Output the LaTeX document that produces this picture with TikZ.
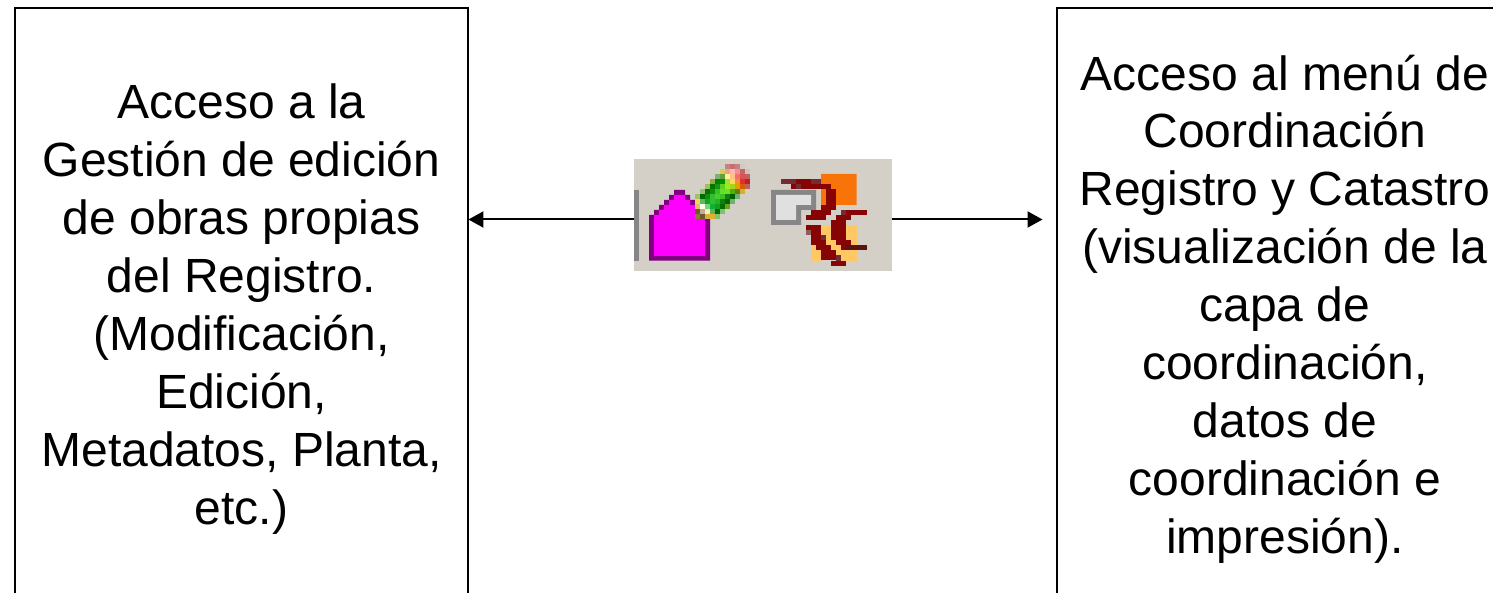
\documentclass[tikz,border=0pt]{standalone}
\usepackage{fontspec}
\setmainfont{Liberation Sans}
\usetikzlibrary{arrows.meta}
\definecolor{iconbg}{HTML}{D4D0C8}
\definecolor{housefill}{HTML}{FF00FF}
\definecolor{houseline}{HTML}{800080}
\definecolor{dred}{HTML}{860404}
\definecolor{mred}{HTML}{762A32}
\definecolor{xred}{HTML}{5A1410}
\definecolor{orng}{HTML}{F87408}
\definecolor{yell}{HTML}{FFC864}
\definecolor{grayln}{HTML}{868686}
\definecolor{graylt}{HTML}{E0E0E0}
\tikzset{
  textbox/.style={draw=black,line width=1.8pt,align=center,inner sep=0pt,
    font=\fontsize{48}{57.9}\selectfont},
  linkarrow/.style={draw=black,line width=2pt,-{Triangle[length=15pt,width=16pt]},shorten >=-0.5pt},
}
\newcommand{\pxc}[3]{\definecolor{tmpc}{HTML}{#3}\fill[tmpc] (#1,#2) rectangle ++(15.6,15.6);}
\begin{document}
\begin{tikzpicture}[x=1pt,y=-1pt]
\useasboundingbox (0,0) rectangle (1493,593);
\clip (0,0) rectangle (1493,593);
\fill[white] (0,0) rectangle (1493,593);
\node[textbox,minimum width=453pt,minimum height=602pt] (left) at (241.5,309)
 {Acceso a la\\Gestión de edición\\de obras propias\\del Registro.\\(Modificación,\\Edición,\\Metadatos, Planta,\\etc.)};
\node[textbox,minimum width=456pt,minimum height=602pt] (right) at (1285,309)
 {Acceso al menú de\\Coordinación\\Registro y Catastro\\(visualización de la\\capa de\\coordinación,\\datos de\\coordinación e\\impresión).};
\node[fill=iconbg,minimum width=258pt,minimum height=112pt,inner sep=0pt] (icon) at (763,215) {};
\coordinate (iconL) at (634,219.5);
\coordinate (iconR) at (892,219.5);
\coordinate (rightEnd) at (1042,219.5);
\draw[linkarrow] (iconL) -- (left.east |- iconL);
\draw[linkarrow] (iconR) -- (rightEnd);
\fill[grayln] (634,190) rectangle (639,261);
% house and pencil, in units of a 3x crop whose corner is (640,160)
\begin{scope}[xshift=640pt,yshift=-160pt,x=0.3333pt,y=-0.3333pt]
\fill[houseline] (27,302)--(27,165)--(42,165)--(42,150)--(57,150)--(57,135)--(72,135)--(72,120)--(87,120)--(87,105)--(102,105)--(102,90)--(135,90)--(135,105)--(150,105)--(150,120)--(165,120)--(165,135)--(180,135)--(180,150)--(195,150)--(195,165)--(210,165)--(210,302)--cycle;
\fill[housefill] (42,288)--(42,165)--(57,165)--(57,150)--(72,150)--(72,135)--(87,135)--(87,120)--(102,120)--(102,105)--(135,105)--(135,120)--(150,120)--(150,135)--(165,135)--(165,150)--(180,150)--(180,165)--(195,165)--(195,288)--cycle;
\pxc{255}{12}{C98080}\pxc{270}{12}{C47070}\pxc{285}{12}{C88080}\pxc{300}{12}{D4C8C4}
\pxc{240}{27}{E0C860}\pxc{255}{27}{E8A878}\pxc{270}{27}{FFB8B8}\pxc{285}{27}{F09090}\pxc{300}{27}{C06868}\pxc{315}{27}{D0C0BC}
\pxc{225}{42}{80B070}\pxc{240}{42}{60A040}\pxc{255}{42}{FFF0A0}\pxc{270}{42}{FFC080}\pxc{285}{42}{F07070}\pxc{300}{42}{E05050}\pxc{315}{42}{C06060}
\pxc{210}{57}{90A840}\pxc{225}{57}{008000}\pxc{240}{57}{009000}\pxc{255}{57}{A0E030}\pxc{270}{57}{FFD860}\pxc{285}{57}{F09030}\pxc{300}{57}{E03030}\pxc{315}{57}{C02020}
\pxc{195}{72}{A0C060}\pxc{210}{72}{007800}\pxc{225}{72}{109810}\pxc{240}{72}{60D020}\pxc{255}{72}{90F020}\pxc{270}{72}{B0D020}\pxc{285}{72}{E0A000}\pxc{300}{72}{D06000}\pxc{315}{72}{C06060}
\pxc{180}{87}{90C070}\pxc{195}{87}{007000}\pxc{210}{87}{109010}\pxc{225}{87}{40C020}\pxc{240}{87}{60E030}\pxc{255}{87}{70E020}\pxc{270}{87}{50B010}\pxc{285}{87}{608000}\pxc{300}{87}{D0B030}
\pxc{165}{102}{A0C070}\pxc{180}{102}{006800}\pxc{195}{102}{109010}\pxc{210}{102}{30C030}\pxc{225}{102}{40D030}\pxc{240}{102}{40C020}\pxc{255}{102}{108010}\pxc{270}{102}{006000}\pxc{285}{102}{70B070}
\pxc{165}{117}{F0D850}\pxc{180}{117}{60B860}\pxc{195}{117}{10A820}\pxc{210}{117}{30C030}\pxc{225}{117}{30B020}\pxc{240}{117}{108010}\pxc{255}{117}{006800}\pxc{270}{117}{70B070}
\pxc{165}{132}{E0C060}\pxc{180}{132}{FFFFF0}\pxc{195}{132}{70D880}\pxc{210}{132}{10B030}\pxc{225}{132}{10A020}\pxc{240}{132}{007000}\pxc{255}{132}{70A020}
\pxc{165}{147}{705828}\pxc{180}{147}{C0B090}\pxc{195}{147}{FFF0B0}\pxc{210}{147}{60B060}\pxc{225}{147}{006800}\pxc{240}{147}{80C070}
\pxc{165}{162}{907838}\pxc{180}{162}{705828}\pxc{195}{162}{D8B040}\pxc{210}{162}{E0B030}\pxc{225}{162}{80C070}
\end{scope}
% crest icon, in units of a 3x crop whose corner is (765,165)
\begin{scope}[xshift=765pt,yshift=-165pt,x=0.3333pt,y=-0.3333pt]
\fill[orng] (168,27)--(275,27)--(275,120)--(213,120)--(213,135)--(168,135)--cycle;
\fill[grayln] (18,75)--(153,75)--(153,135)--(108,135)--(108,180)--(18,180)--cycle;
\fill[graylt] (33,90)--(138,90)--(138,120)--(93,120)--(93,165)--(33,165)--cycle;
\fill[yell] (168,180) rectangle (198,240);
\fill[yell] (243,180) rectangle (275,288);
\fill[yell] (183,225) rectangle (213,255);
\fill[yell] (198,240) rectangle (243,270);
\fill[yell] (138,240) rectangle (168,288);
\fill[yell] (213,255) rectangle (243,288);
\fill[mred] (48,42) rectangle (93,57);
\fill[dred] (93,42) rectangle (138,57);
\fill[mred] (138,42) rectangle (168,57);
\fill[dred] (78,57) rectangle (198,72);
\fill[mred] (93,57) rectangle (108,72);
\fill[dred] (183,72) rectangle (213,120);
\fill[dred] (168,120) rectangle (213,135);
\fill[dred] (138,135) rectangle (198,150);
\fill[dred] (123,150) rectangle (183,165);
\fill[mred] (228,135) rectangle (243,150);
\fill[dred] (243,135) rectangle (305,150);
\fill[dred] (213,150) rectangle (258,165);
\fill[dred] (198,165) rectangle (243,225);
\fill[dred] (213,225) rectangle (258,240);
\fill[dred] (228,240) rectangle (243,255);
\fill[xred] (243,240) rectangle (305,255);
\fill[dred] (123,180) rectangle (168,195);
\fill[mred!70!iconbg] (123,195) rectangle (138,210);
\fill[dred] (138,195) rectangle (168,225);
\fill[mred] (168,210) rectangle (183,225);
\fill[dred] (138,225) rectangle (183,240);
\fill[dred] (153,240) rectangle (198,255);
\fill[dred] (168,255) rectangle (213,285);
\fill[mred] (213,270) rectangle (228,288);
\fill[dred] (198,288) rectangle (243,303);
\end{scope}
\end{tikzpicture}
\end{document}
